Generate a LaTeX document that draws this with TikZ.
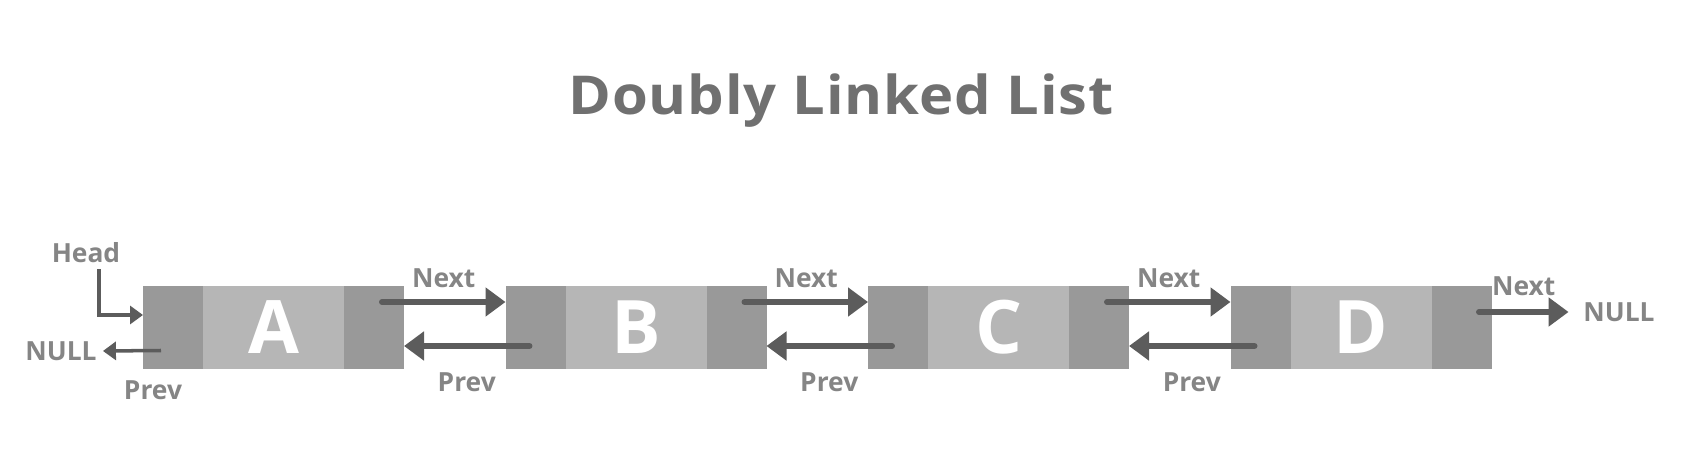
\documentclass[tikz,border=0pt]{standalone}
\usepackage{fontspec}
\setmainfont{Open Sans}
\usetikzlibrary{positioning,arrows.meta,calc}

\definecolor{sidegray}{HTML}{999999}
\definecolor{datagray}{HTML}{B6B6B6}
\definecolor{arrowgray}{HTML}{5C5C5C}
\definecolor{labelgray}{HTML}{858585}
\definecolor{titlegray}{HTML}{707070}

\begin{document}
\begin{tikzpicture}[semithick,
    sidebox/.style={fill=sidegray,minimum width=1.2cm,minimum height=1.66cm,inner sep=0pt,outer sep=0pt},
    databox/.style={fill=datagray,minimum width=2.82cm,minimum height=1.66cm,inner sep=0pt,outer sep=0pt,
      text=white,font=\fontsize{42}{42}\selectfont\bfseries},
    lbl/.style={text=labelgray,font=\fontsize{15}{15}\selectfont\bfseries},
    link/.style={draw=arrowgray,line width=3.4pt,line cap=round,-{Triangle[length=0.4cm,width=0.56cm]}},
    ptr/.style={draw=arrowgray,line width=2pt,-{Triangle[length=0.26cm,width=0.36cm]}}]
      \useasboundingbox (0,0) rectangle (34.04,-9.04);
      \node[text=titlegray,font=\fontsize{30.5}{30.5}\selectfont\bfseries\addfontfeature{LetterSpace=1.5},
        anchor=base,xscale=1.08,transform shape] (title) at (16.82,-2.29) {Doubly Linked List};

      % the four list nodes
      \foreach \name/\xpos in {A/5.47,B/12.72,C/19.97,D/27.22}{
        \node[databox] (\name data) at (\xpos,-6.55) {\name};
        \node[sidebox,left=0pt of \name data] (\name prev) {};
        \node[sidebox,right=0pt of \name data] (\name next) {};
      }

      \node[lbl] (head) at (1.72,-5.05) {Head};
      \node[lbl] (nullL) at (1.22,-7.02) {NULL};
      \node[lbl] (prevA) at (3.06,-7.8) {Prev};
      \node[lbl] (nullR) at (32.38,-6.24) {NULL};

      \draw[ptr] ([xshift=0.26cm]head.south) |- ([yshift=0.25cm]Aprev.west);
      \draw[ptr] ([xshift=0.36cm,yshift=-0.46cm]Aprev.west) -- (nullL.east);

      \foreach \cur/\nxt in {A/B,B/C,C/D}{
        \draw[link] ([xshift=0.16cm,yshift=0.51cm]\cur next.center) -- ([yshift=0.51cm]\nxt prev.west)
          node[lbl,midway,yshift=0.48cm] {Next};
        \draw[link] ([xshift=-0.12cm,yshift=-0.37cm]\nxt prev.center) -- ([yshift=-0.37cm]\cur next.east)
          node[lbl,midway,yshift=-0.72cm] {Prev};
      }
      \draw[link] ([xshift=0.35cm,yshift=0.31cm]Dnext.center) -- ([xshift=-0.17cm]nullR.west)
        node[lbl,midway,yshift=0.52cm] {Next};
      %\draw[link] (Dprev) -- (Cnext);
    \end{tikzpicture}
\end{document}
